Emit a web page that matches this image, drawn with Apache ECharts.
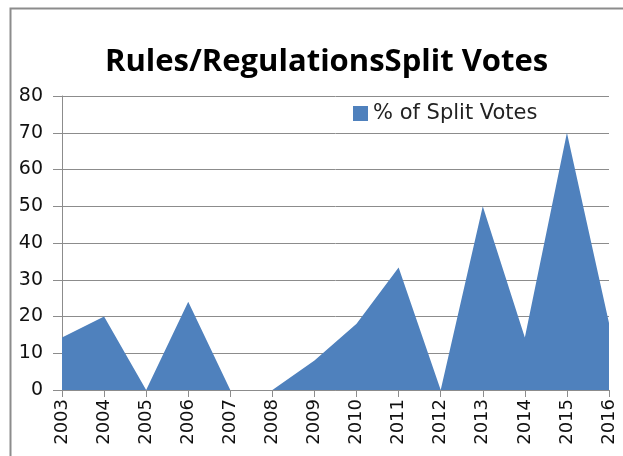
<!DOCTYPE html>
<html>
<head>
<meta charset="utf-8">
<script src="https://cdn.jsdelivr.net/npm/echarts@6/dist/echarts.min.js"></script>
<style>
  html, body { margin: 0; padding: 0; background: #fff; }
  #chart { width: 623px; height: 456px; }
</style>
</head>
<body>
<div id="chart"></div>
<script>
// years on the x axis
const years = ['2003', '2004', '2005', '2006', '2007', '2008', '2009',
  '2010', '2011', '2012', '2013', '2014', '2015', '2016']
// % of split votes
const splitVotes = [14.3, 20, 0, 24, 0, 0, 8, 18, 33.3, 0, 50, 14.3, 70, 18.2]
const seriesName = '% of Split Votes'

const chart = echarts.init(document.getElementById('chart'))
const option = {
  animation: false,
  title: {
    text: 'Rules/RegulationsSplit Votes',
    left: 100,
    top: 42,
    textStyle: {
      fontFamily: 'Open Sans',
      fontWeight: 'bold',
      fontSize: 31,
      color: '#000'
    }
  },
  legend: {
    data: [seriesName],
    left: 348,
    top: 98,
    icon: 'rect',
    itemWidth: 15,
    itemHeight: 15,
    itemGap: 6,
    textStyle: { fontFamily: 'DejaVu Sans', fontSize: 21, color: '#222' }
  },
  graphic: [{
    type: 'rect',
    shape: { x: 10.5, y: 8.5, width: 700, height: 600 },
    style: { fill: 'none', stroke: '#8c8c8c', lineWidth: 2 }
  }],
  grid: { left: 62, right: 14, top: 96, bottom: 66 },
  xAxis: {
    type: 'category',
    data: years,
    boundaryGap: false,
    axisLine: { lineStyle: { color: '#8c8c8c', width: 1 } },
    axisTick: { show: true, length: 7, lineStyle: { color: '#8c8c8c' } },
    axisLabel: {
      rotate: 90,
      margin: 9,
      interval: 0,
      fontFamily: 'DejaVu Sans',
      fontSize: 18,
      color: '#111'
    }
  },
  yAxis: {
    type: 'value',
    min: 0,
    max: 80,
    interval: 10,
    axisLine: { show: true, lineStyle: { color: '#8c8c8c' } },
    axisTick: { show: true, length: 9, lineStyle: { color: '#8c8c8c' } },
    splitLine: { lineStyle: { color: '#8c8c8c', width: 1 } },
    axisLabel: {
      margin: 19,
      fontFamily: 'DejaVu Sans',
      fontSize: 19,
      color: '#111'
    }
  },
  series: [{
    name: seriesName,
    type: 'line',
    data: splitVotes,
    symbol: 'none',
    lineStyle: { width: 0 },
    itemStyle: { color: '#4f81bd' },
    areaStyle: { color: '#4f81bd', opacity: 1 }
  }]
}
chart.setOption(option)
</script>
</body>
</html>
